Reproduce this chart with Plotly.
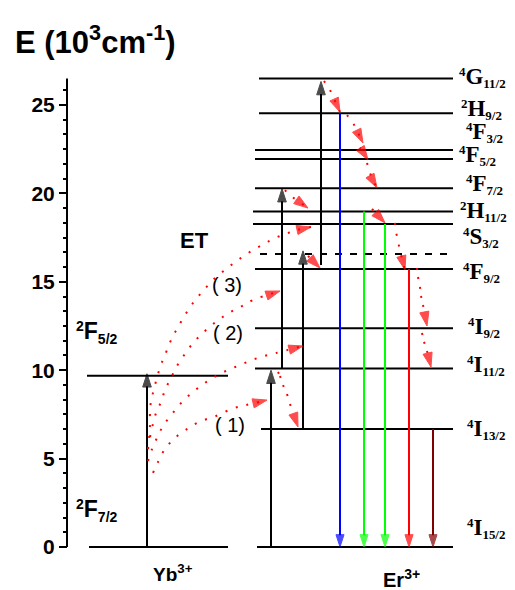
import plotly.graph_objects as go

# ---------------- data (energies in 10^3 cm^-1) ----------------
YB_LEVEL_SYM = [("2", "F", "7/2"), ("2", "F", "5/2")]
YB_LEVEL_E = [0.0, 9.69]

ER_LEVEL_SYM = [
    ("4", "I", "15/2"), ("4", "I", "13/2"), ("4", "I", "11/2"), ("4", "I", "9/2"),
    ("4", "F", "9/2"), ("4", "S", "3/2"), ("2", "H", "11/2"), ("4", "F", "7/2"),
    ("4", "F", "5/2"), ("4", "F", "3/2"), ("2", "H", "9/2"), ("4", "G", "11/2"),
]
ER_LEVEL_E = [0.0, 6.67, 10.10, 12.37, 15.72, 18.27, 18.97, 20.29, 21.95, 22.45, 24.53, 26.50]
ER_VIRTUAL_E = 16.57

# excitation (black) arrows: start / end energies
YB_EXC = (0.0, 9.80)
ER_EXC_FROM = [0.0, 10.10, 6.67, 15.95]
ER_EXC_TO = [10.0, 20.27, 16.75, 26.33]

# emission arrows to ground state
EMIT_FROM = [24.53, 18.97, 18.27, 15.72, 6.67]
EMIT_COLORS = ["#0000ff", "#00ff00", "#00ff00", "#ff0000", "#800000"]

# energy-transfer dotted curves (x in column units, E)
ET1_X = [153, 158, 165, 175, 187, 199, 216, 234, 246, 267]
ET1_E = [4.19, 4.81, 5.54, 6.17, 6.67, 7.07, 7.41, 7.86, 8.03, 8.31]
ET2_X = [148, 152, 157, 163, 172, 182, 193, 205, 216, 228, 240, 252, 264, 276, 303]
ET2_E = [4.86, 5.54, 6.17, 6.84, 7.52, 8.20, 8.77, 9.28, 9.67, 10.01, 10.29, 10.58, 10.80, 10.97, 11.37]
ET3_X = [150, 156, 161, 165, 171, 177, 185, 194, 205, 217, 229, 242, 253, 280]
ET3_E = [6.22, 7.58, 8.20, 8.88, 9.56, 10.24, 10.92, 11.60, 12.22, 12.78, 13.24, 13.63, 13.97, 14.48]
ET4_X = [148, 150, 150, 152, 155, 158, 162, 167, 172, 178, 185, 193, 203, 214, 226, 238, 250, 262, 273, 285, 297, 311]
ET4_E = [5.54, 6.90, 7.81, 8.48, 9.16, 9.79, 10.46, 11.14, 11.82, 12.44, 13.12, 13.80, 14.48, 15.16,
         15.72, 16.23, 16.69, 17.08, 17.42, 17.70, 17.93, 18.10]

# non-radiative relaxations (dotted red arrows)
NR_X = [
    [324, 330, 340],
    [347, 353, 363],
    [360, 368],
    [367, 369, 372, 377],
    [372, 385],
    [395, 396, 398, 400, 405],
    [417, 418, 420, 421, 423, 427],
    [422, 424, 427, 431],
    [285, 288, 308],
    [278, 280, 283, 287, 290, 298],
    [308, 320],
]
NR_E = [
    [26.36, 25.85, 24.60],
    [24.43, 24.00, 22.85],
    [22.60, 21.89],
    [21.72, 21.38, 20.81, 20.31],
    [19.12, 18.33],
    [18.33, 17.82, 17.31, 16.74, 15.67],
    [15.78, 15.27, 14.71, 14.20, 13.69, 12.50],
    [12.10, 11.60, 11.09, 10.18],
    [20.19, 19.97, 19.17],
    [9.90, 9.67, 9.16, 8.65, 8.09, 6.79],
    [16.46, 15.78],
]

Y_TICKS = [0, 5, 10, 15, 20, 25]

# ---------------- layout geometry ----------------
# the page body adds an 8px margin, so the figure is drawn 8px smaller
PAGE_OFF = 8
W, H = 515, 590
PX_PER_UNIT = 17.68
ZERO_PX = 547
AXIS_X = 67
AXIS_TOP = 26.5

YB_X0, YB_X1 = [89, 87], 228
ER_X0 = [257, 261, 255, 255, 255, 253, 253, 255, 255, 255, 259, 259]
ER_X1 = 453
VIRT_X0 = 260
YB_ARROW_X = 147
ER_EXC_X = [271, 282, 303, 321]
EMIT_X = [340, 364, 385, 409, 433]
ER_LABEL_X = [465, 465, 465, 466, 461, 461, 458, 464, 457, 464, 459, 457]
ER_LABEL_Y = [1.02, 6.62, 10.29, 12.39, 15.50, 17.48, 18.95, 20.48, 22.17, 23.47, 24.72, 26.58]

fig = go.Figure()


def level(x0, x1, e, dash="solid"):
    fig.add_trace(go.Scatter(x=[x0, x1], y=[e, e], mode="lines",
                             line=dict(color="black", width=2, dash=dash),
                             hoverinfo="skip", showlegend=False))


def arrow(xs, ys, color, width=2.0, head=14, dash="solid", shape="linear"):
    n = len(xs)
    fig.add_trace(go.Scatter(
        x=xs, y=ys, mode="lines+markers",
        line=dict(color=color, width=width, dash=dash, shape=shape),
        marker=dict(symbol="arrow", size=[0] * (n - 1) + [head], angleref="previous",
                    color=color, line=dict(width=1, color=color)),
        hoverinfo="skip", showlegend=False))


for x0, e in zip(YB_X0, YB_LEVEL_E):
    level(x0, YB_X1, e)
for x0, e in zip(ER_X0, ER_LEVEL_E):
    level(x0, ER_X1, e)
level(VIRT_X0, ER_X1, ER_VIRTUAL_E, dash="7px,8px")

# excitation arrows
arrow([YB_ARROW_X, YB_ARROW_X], list(YB_EXC), "black")
for x, e0, e1 in zip(ER_EXC_X, ER_EXC_FROM, ER_EXC_TO):
    arrow([x, x], [e0, e1], "black")

# emission arrows
for x, e0, c in zip(EMIT_X, EMIT_FROM, EMIT_COLORS):
    arrow([x, x], [e0, ER_LEVEL_E[0]], c, head=13)

DOT = "2px,9px"
for xs, es in [(ET1_X, ET1_E), (ET2_X, ET2_E), (ET3_X, ET3_E), (ET4_X, ET4_E)]:
    arrow(xs, es, "#ff0000", width=2, head=15, dash=DOT, shape="spline")
for xs, es in zip(NR_X, NR_E):
    arrow(xs, es, "#ff0000", width=2, head=15, dash=DOT)

# y axis line
fig.add_shape(type="line", xref="x", yref="y", x0=AXIS_X, x1=AXIS_X, y0=0, y1=AXIS_TOP,
              line=dict(color="black", width=2))

SANS = "Liberation Sans"
SERIF = "Liberation Serif"


def text(x, y, s, size, family=SANS, weight="bold", xanchor="center", yanchor="middle"):
    fig.add_annotation(x=x, y=y, xref="x", yref="y", text=s, showarrow=False,
                       xanchor=xanchor, yanchor=yanchor,
                       font=dict(family=family, size=size, color="black", weight=weight))


def term(sym, main_px):
    mult, letter, j = sym
    return (f'<sup>{mult}</sup><span style="font-size:{main_px}px">{letter}</span>'
            f'<sub>{j}</sub>')


for sym, lx, ly in zip(ER_LEVEL_SYM, ER_LABEL_X, ER_LABEL_Y):
    text(lx, ly, term(sym, 23), 18.5, family=SERIF, xanchor="left")

text(74, 12.15, term(YB_LEVEL_SYM[1], 23), 20, xanchor="left")
text(74, 2.09, term(YB_LEVEL_SYM[0], 23), 20, xanchor="left")
text(194, 17.36, "ET", 22)
text(227, 14.82, "( 3)", 20, weight="normal")
text(228, 12.10, "( 2)", 20, weight="normal")
text(230, 6.90, "( 1)", 20, weight="normal")
text(173, -1.47, "Yb<sup>3+</sup>", 19)
text(401, -1.80, "Er<sup>3+</sup>", 20)
text(13, 28.68, "E (10<sup>3</sup>cm<sup>-1</sup>)", 31, xanchor="left")

minor_vals = [k * 5 / 6 for k in range(0, 32) if k % 6 != 0 and k * 5 / 6 <= AXIS_TOP]

fig.update_layout(
    width=W - PAGE_OFF, height=H - PAGE_OFF, margin=dict(l=0, r=0, t=0, b=0),
    plot_bgcolor="white", paper_bgcolor="white", showlegend=False,
    xaxis=dict(range=[PAGE_OFF, W], visible=False, fixedrange=True),
    yaxis=dict(
        range=[-(H - ZERO_PX) / PX_PER_UNIT, (ZERO_PX - PAGE_OFF) / PX_PER_UNIT],
        anchor="free", position=(AXIS_X - PAGE_OFF) / (W - PAGE_OFF),
        showgrid=False, zeroline=False, showline=False,
        tickmode="array", tickvals=Y_TICKS, ticks="outside", ticklen=8, tickwidth=2,
        tickcolor="black",
        tickfont=dict(family=SANS, size=21, color="black", weight="bold"),
        minor=dict(tickmode="array", tickvals=minor_vals, ticks="outside", ticklen=4,
                   tickwidth=1.5, tickcolor="black", showgrid=False),
    ),
)

fig.write_html("out.html")
